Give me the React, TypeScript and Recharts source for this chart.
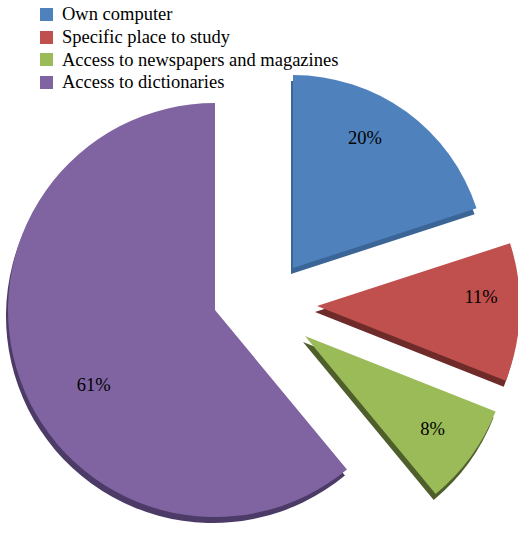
import { PieChart, Pie, Cell } from 'recharts'

const categories = [
  'Own computer',
  'Specific place to study',
  'Access to newspapers and magazines',
  'Access to dictionaries',
]
const shares = [20, 11, 8, 61]

const faceColors = ['#4F81BD', '#C0504D', '#9BBB59', '#8064A2']
const sideColors = ['#3B6596', '#6E2B29', '#4F5F2B', '#4C3B66']

// where each slice's tip sits (the three small ones are pulled out)
const sliceCenters = [
  { x: 293, y: 268 },
  { x: 317, y: 306 },
  { x: 305, y: 336 },
  { x: 215, y: 310 },
]
const sliceRadius = [193, 203, 205, 207]
// label placement: share of the radius, and a small turn (deg) for the tilted look
const labelRadius = [0.77, 0.81, 0.77, 0.69]
const labelTurn = [7, 5, 0, 12]

const chartData = categories.map((name, i) => ({ name, value: shares[i] }))

const RAD = Math.PI / 180
const FONT = "'Liberation Serif', 'Times New Roman', serif"

function makeLabel(target: number) {
  return (props: any) => {
    const { cx, cy, midAngle, outerRadius, index, value } = props
    if (index !== target) return null
    const r = outerRadius * labelRadius[target]
    const a = (midAngle + labelTurn[target]) * RAD
    const x = cx + r * Math.cos(-a)
    const y = cy + r * Math.sin(-a)
    return (
      <text
        x={x}
        y={y}
        textAnchor="middle"
        dominantBaseline="central"
        fill="#000"
        fontSize={18.5}
        fontFamily={FONT}
      >
        {`${value}%`}
      </text>
    )
  }
}

function LegendBox() {
  return (
    <div style={{ position: 'absolute', left: 40, top: 3, fontFamily: FONT, fontSize: 18.5, color: '#000' }}>
      {categories.map((c, i) => (
        <div key={c} style={{ display: 'flex', alignItems: 'center', height: 22.7 }}>
          <span style={{ width: 13, height: 13, background: faceColors[i], display: 'inline-block', marginRight: 9 }} />
          <span style={{ lineHeight: '20px' }}>{c}</span>
        </div>
      ))}
    </div>
  )
}

export default function App() {
  return (
    <div style={{ position: 'absolute', left: 0, top: 0, width: 518, height: 536, background: '#fff' }}>
      <PieChart width={518} height={536} margin={{ top: 0, right: 0, bottom: 0, left: 0 }}>
        {/* slice thickness first, then the faces on top */}
        {categories.map((c, i) => (
          <Pie
            key={`side-${c}`}
            data={chartData}
            dataKey="value"
            cx={sliceCenters[i].x - 2}
            cy={sliceCenters[i].y + 6}
            outerRadius={sliceRadius[i]}
            startAngle={90}
            endAngle={-270}
            stroke="none"
            labelLine={false}
            isAnimationActive={false}
          >
            {chartData.map((d, j) => (
              <Cell key={d.name} fill={j === i ? sideColors[i] : 'none'} stroke="none" />
            ))}
          </Pie>
        ))}
        {categories.map((c, i) => (
          <Pie
            key={`face-${c}`}
            data={chartData}
            dataKey="value"
            cx={sliceCenters[i].x}
            cy={sliceCenters[i].y}
            outerRadius={sliceRadius[i]}
            startAngle={90}
            endAngle={-270}
            stroke="none"
            labelLine={false}
            label={makeLabel(i)}
            isAnimationActive={false}
          >
            {chartData.map((d, j) => (
              <Cell key={d.name} fill={j === i ? faceColors[i] : 'none'} stroke="none" />
            ))}
          </Pie>
        ))}
      </PieChart>
      <LegendBox />
    </div>
  )
}
